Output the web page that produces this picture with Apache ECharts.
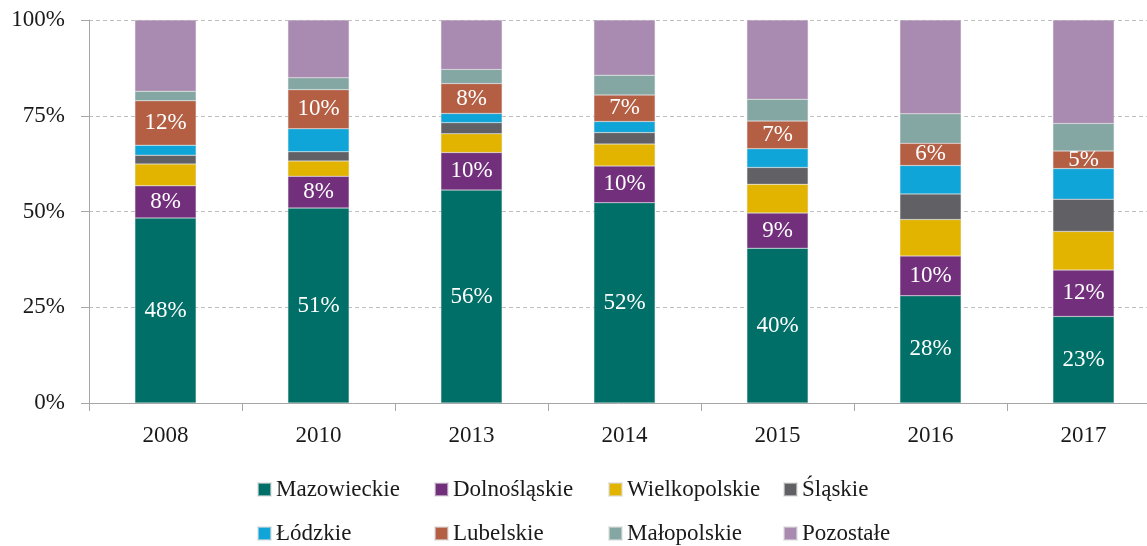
<!DOCTYPE html>
<html>
<head>
<meta charset="utf-8">
<script src="https://cdn.jsdelivr.net/npm/echarts@6/dist/echarts.min.js"></script>
<style>
  html, body { margin: 0; padding: 0; background: #fff; }
  #chart { width: 1147px; height: 546px; }
</style>
</head>
<body>
<div id="chart"></div>
<script>
// lata
var years = ["2008", "2010", "2013", "2014", "2015", "2016", "2017"];
var yTicks = [0, 25, 50, 75, 100];

// udzialy wojewodztw (%)
var mazowieckie   = [48.3, 50.9, 55.6, 52.3, 40.4, 28.0, 22.6];
var dolnoslaskie  = [8.4, 8.3, 9.8, 9.6, 9.2, 10.4, 12.1];
var wielkopolskie = [5.7, 4.0, 4.9, 5.7, 7.5, 9.5, 10.1];
var slaskie       = [2.3, 2.4, 2.9, 3.0, 4.4, 6.7, 8.4];
var lodzkie       = [2.6, 6.0, 2.4, 2.9, 4.9, 7.4, 8.0];
var lubelskie     = [11.6, 10.2, 7.8, 6.9, 7.2, 5.8, 4.6];
var malopolskie   = [2.5, 3.1, 3.7, 5.2, 5.7, 7.7, 7.2];
var pozostale     = [18.6, 15.1, 12.9, 14.4, 20.7, 24.5, 27.0];

var FONT = "'Liberation Serif', 'DejaVu Serif', serif";

var seriesDefs = [
  { name: "Mazowieckie", data: mazowieckie, color: "#006F67", label: true },
  { name: "Dolnośląskie", data: dolnoslaskie, color: "#722F7C", label: true },
  { name: "Wielkopolskie", data: wielkopolskie, color: "#E2B400", label: false },
  { name: "Śląskie", data: slaskie, color: "#616065", label: false },
  { name: "Łódzkie", data: lodzkie, color: "#10A5D8", label: false },
  { name: "Lubelskie", data: lubelskie, color: "#B45F44", label: true },
  { name: "Małopolskie", data: malopolskie, color: "#84A7A4", label: false },
  { name: "Pozostałe", data: pozostale, color: "#A98AB0", label: false }
];

// pozycje legendy (dwa wiersze po cztery)
var legendCols = [252, 429, 603, 778];
var legendRows = [473, 517];

var legends = seriesDefs.map(function (s, i) {
  return {
    data: [s.name],
    left: legendCols[i % 4],
    top: legendRows[Math.floor(i / 4)],
    orient: "horizontal",
    icon: "rect",
    itemWidth: 13,
    itemHeight: 13,
    selectedMode: false,
    textStyle: { fontFamily: FONT, fontSize: 23, color: "#1a1a1a" }
  };
});

var series = seriesDefs.map(function (s) {
  return {
    name: s.name,
    type: "bar",
    stack: "total",
    barWidth: "40%",
    data: s.data,
    itemStyle: { color: s.color, borderColor: "rgba(220,220,220,0.6)", borderWidth: 0.5 },
    label: {
      show: s.label,
      position: "inside",
      color: "#fff",
      fontFamily: FONT,
      fontSize: 23,
      formatter: function (p) { return Math.round(p.value) + "%"; }
    }
  };
});

var option = {
  animation: false,
  backgroundColor: "#fff",
  color: seriesDefs.map(function (s) { return s.color; }),
  legend: legends,
  // wykres jest uciety z prawej strony, stad szerokosc wieksza niz okno
  grid: { left: 89, width: 1071, top: 20, height: 383, containLabel: false, outerBoundsMode: "none" },
  xAxis: {
    type: "category",
    data: years,
    axisLine: { lineStyle: { color: "#A6A6A6", width: 1 } },
    axisTick: { show: true, length: 8, lineStyle: { color: "#A6A6A6" } },
    axisLabel: { fontFamily: FONT, fontSize: 23, color: "#1a1a1a", margin: 21 }
  },
  yAxis: {
    type: "value",
    min: yTicks[0],
    max: yTicks[yTicks.length - 1],
    interval: 25,
    axisLine: { show: true, lineStyle: { color: "#A6A6A6", width: 1 } },
    axisTick: { show: true, length: 8, lineStyle: { color: "#A6A6A6" } },
    axisLabel: { fontFamily: FONT, fontSize: 23, color: "#1a1a1a", margin: 24, formatter: "{value}%" },
    splitLine: { show: true, lineStyle: { color: "#BFBFBF", type: [4, 3], width: 1 } }
  },
  series: series
};

var myChart = echarts.init(document.getElementById("chart"));
myChart.setOption(option);
</script>
</body>
</html>
